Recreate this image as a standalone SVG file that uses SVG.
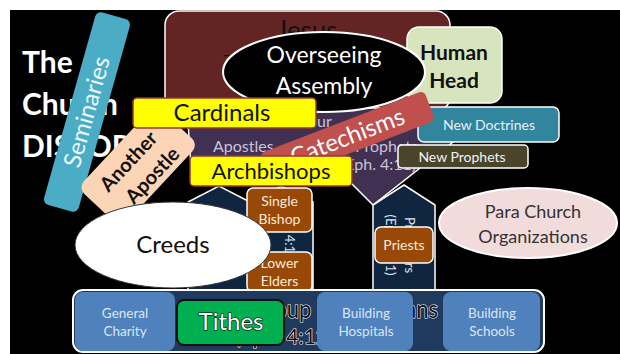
<svg xmlns="http://www.w3.org/2000/svg" width="620" height="354" viewBox="0 0 620 354">
<style>
text{font-family:Lato,'Open Sans','Liberation Sans',sans-serif}
.c{text-anchor:middle}
.w{stroke:#fff;stroke-width:1.5}
.brown{fill:#984807;stroke:#fff;stroke-width:1.5}
.bt{fill:#fde9d9;font-size:14px;text-anchor:middle}
.yel{fill:#ffff00;stroke:#953735;stroke-width:1.5}
.blue{fill:#4f81bd}
.blt{fill:#dce6f2;font-size:13.5px;text-anchor:middle}
.navy{fill:#10253f;stroke:#fff;stroke-width:1.5}
.pt{fill:#ccc1da;font-size:16px}
.vt{fill:#dce6f2;font-size:13px}
.glow{fill:#111;stroke:#fff;stroke-width:1.2;paint-order:stroke}
.ttl{fill:#fff;font-weight:bold;font-size:30px}
</style>
<rect width="620" height="354" fill="#fff"/>
<rect x="10" y="10" width="610" height="344" fill="#000"/>
<g id="title">
<text x="22" y="73" class="ttl">The</text>
<text x="22" y="115" class="ttl">Church</text>
<text x="22" y="157" class="ttl">DISTORTED</text>
</g>
<g id="jesus">
<rect x="165" y="11" width="285" height="100" rx="14" fill="#632523" class="w"/>
<text x="307" y="40" class="c" font-size="26" fill="#111">Jesus</text>
<text x="222" y="62" font-size="22" fill="#111">–</text>
</g>
<g id="apostles-prophets">
<polygon points="187,108 440,108 453,142 373,205 349,181 192,181" fill="#403152" class="w"/>
<text x="317" y="127" class="pt" font-size="17">ur</text>
<text x="213" y="152" class="pt">Apostles</text>
<text x="355" y="152" class="pt">Prophets</text>
<text x="341" y="170" class="pt">(Eph. 4:11)</text>
</g>
<g id="pillar-left">
<polygon class="navy" points="188,290 188,202 219,186 250,202 250,290"/>
</g>
<g id="pillar-middle">
<polygon class="navy" points="250,290 250,202 281,186 313,202 313,290"/>
<text class="vt" transform="translate(285,203) rotate(90)">(Eph. 4:11)</text>
</g>
<g id="pillar-right">
<polygon class="navy" points="373,290 373,205 404,185 435,205 435,290"/>
<text class="vt c" transform="translate(405,245) rotate(90)">Preachers</text>
<text class="vt c" transform="translate(386,245) rotate(90)">(Eph. 4:11)</text>
</g>
<g id="human-head">
<rect x="407" y="27" width="95" height="76" rx="12" fill="#d7e4bd" class="w"/>
<text x="454" y="60" class="c" font-size="21" font-weight="bold" fill="#111">Human</text>
<text x="454" y="88" class="c" font-size="21" font-weight="bold" fill="#111">Head</text>
</g>
<g id="overseeing-assembly">
<ellipse cx="324" cy="72" rx="101" ry="40" fill="#000" stroke="#fff" stroke-width="2"/>
<text x="324" y="63" class="c" font-size="23" fill="#fff">Overseeing</text>
<text x="324" y="94" class="c" font-size="23" fill="#fff">Assembly</text>
</g>
<g id="new-doctrines">
<rect x="418" y="107" width="141" height="35" rx="6" fill="#31859c" class="w"/>
<text x="489" y="130" class="c" font-size="14" fill="#e6f2f6">New Doctrines</text>
</g>
<g id="new-prophets">
<rect x="398" y="145" width="130" height="23" rx="4" fill="#4a452a" class="w"/>
<text x="462" y="162" class="c" font-size="14" fill="#f2f2f2">New Prophets</text>
</g>
<g id="catechisms" transform="translate(347.5,137) rotate(-21)">
<rect x="-88" y="-16" width="176" height="32" rx="5" fill="#c0504d"/>
<text x="0" y="8" class="c" font-size="24" fill="#fff">Catechisms</text>
</g>
<g id="seminaries" transform="translate(87,112) rotate(-74.3)">
<rect x="-100" y="-18" width="200" height="36" rx="6" fill="#4bacc6"/>
<text x="0" y="8" class="c" font-size="24" fill="#eef8fb">Seminaries</text>
</g>
<g id="another-apostle" transform="translate(140,168) rotate(-47)">
<rect x="-57" y="-32" width="114" height="59" rx="9" fill="#fbd5b5"/>
<text x="-3" y="-6" class="c" font-size="20" font-weight="bold" fill="#111">Another</text>
<text x="3" y="21" class="c" font-size="20" font-weight="bold" fill="#111">Apostle</text>
</g>
<g id="cardinals">
<rect x="133" y="98" width="183" height="30" rx="4" class="yel"/>
<text x="222" y="121" class="c" font-size="24" fill="#111">Cardinals</text>
</g>
<g id="archbishops">
<rect x="190" y="156" width="162" height="30" rx="4" class="yel"/>
<text x="271" y="179" class="c" font-size="22" fill="#111">Archbishops</text>
</g>
<g id="single-bishop">
<rect x="247" y="188" width="65" height="44" rx="6" class="brown"/>
<text x="279.5" y="206" class="bt">Single</text>
<text x="279.5" y="224" class="bt">Bishop</text>
</g>
<g id="lower-elders">
<rect x="247" y="252" width="65" height="40" rx="6" class="brown"/>
<text x="279.5" y="268" class="bt">Lower</text>
<text x="279.5" y="286" class="bt">Elders</text>
</g>
<g id="priests">
<rect x="375" y="227" width="58" height="36" rx="6" class="brown"/>
<text x="404" y="250" class="bt" font-size="15">Priests</text>
</g>
<g id="creeds">
<ellipse cx="173" cy="245" rx="98" ry="43" fill="#fff" stroke="#333" stroke-width="1"/>
<text x="173" y="253" class="c" font-size="24" fill="#111">Creeds</text>
</g>
<g id="para-church">
<ellipse cx="528" cy="223" rx="89" ry="35" fill="#f2dcdb" stroke="#fff" stroke-width="2"/>
<text x="533" y="218" class="c" font-size="18" fill="#333">Para Church</text>
<text x="533" y="243" class="c" font-size="18" fill="#333">Organizations</text>
</g>
<g id="group-of-christians">
<rect x="73" y="290" width="471" height="62" rx="10" fill="#1f3a5c" stroke="#fff" stroke-width="2"/>
<text x="251" y="318" font-size="25" class="glow" textLength="187" lengthAdjust="spacingAndGlyphs">Group of Christians</text>
<text x="235" y="344" font-size="21" class="glow">(Eph. 4:12)</text>
</g>
<g id="general-charity">
<rect x="75" y="292" width="100" height="59" rx="8" class="blue"/>
<text x="125" y="318" class="blt">General</text>
<text x="125" y="336" class="blt">Charity</text>
</g>
<g id="building-hospitals">
<rect x="317" y="292" width="96" height="59" rx="8" class="blue"/>
<text x="366" y="318" class="blt">Building</text>
<text x="366" y="336" class="blt">Hospitals</text>
</g>
<g id="building-schools">
<rect x="443" y="292" width="97" height="59" rx="8" class="blue"/>
<text x="492" y="318" class="blt">Building</text>
<text x="492" y="336" class="blt">Schools</text>
</g>
<g id="tithes">
<rect x="177" y="300" width="107" height="45" rx="7" fill="#00b050" stroke="#111" stroke-width="2"/>
<text x="231" y="330" class="c" font-size="24" fill="#fff" stroke="#000" stroke-width="1.2" paint-order="stroke">Tithes</text>
</g>
</svg>
